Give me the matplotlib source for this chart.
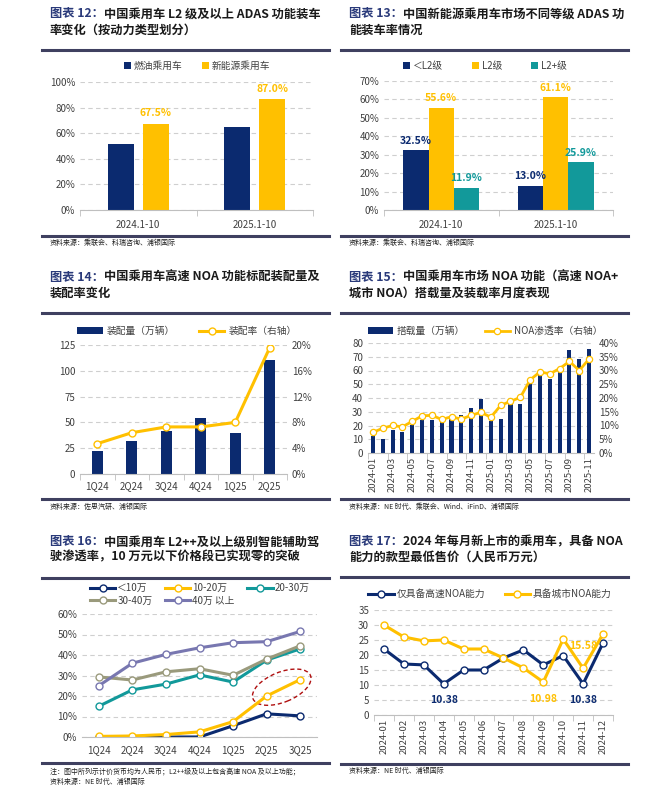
import matplotlib
matplotlib.use('Agg')
import matplotlib.pyplot as plt
import matplotlib.transforms as mtrans
from matplotlib.patches import Ellipse
from matplotlib.ticker import FuncFormatter
import numpy as np

plt.rcParams['font.family'] = ['Noto Sans CJK SC', 'DejaVu Sans']

W, H = 672, 791
NAVY = '#0b2a6f'
GOLD = '#ffc000'
TEAL = '#12999a'
OLIVE = '#9a9a7c'
PURPLE = '#7877b0'
RULE = '#3f4060'
GRID = '#cfcfcf'
TXT = '#404040'

# 图表12
p12_cats = ['2024.1-10', '2025.1-10']
p12_fuel = [51.5, 64.5]
p12_nev = [67.5, 87.0]

# 图表13
p13_cats = ['2024.1-10', '2025.1-10']
p13_below = [32.5, 13.0]
p13_l2 = [55.6, 61.1]
p13_l2plus = [11.9, 25.9]

# 图表14
p14_cats = ['1Q24', '2Q24', '3Q24', '4Q24', '1Q25', '2Q25']
p14_vol = [22, 31.5, 41.5, 54, 39.5, 110]
p14_rate = [4.7, 6.4, 7.3, 7.3, 8.0, 19.6]

# 图表15
p15_months = ['2024-01', '2024-02', '2024-03', '2024-04', '2024-05', '2024-06',
              '2024-07', '2024-08', '2024-09', '2024-10', '2024-11', '2024-12',
              '2025-01', '2025-02', '2025-03', '2025-04', '2025-05', '2025-06',
              '2025-07', '2025-08', '2025-09', '2025-10', '2025-11']
p15_vol = [12.5, 10, 17, 15, 20.5, 24, 24, 22.5, 24.5, 27.5, 33, 39,
           23.5, 24.5, 35.5, 36, 51, 57.5, 53.5, 59.5, 75, 68.5, 76]
p15_rate = [7.5, 9, 10, 9.5, 11.5, 13.5, 13.7, 12.2, 13.2, 12.3, 13.7, 14.8,
            13, 17.3, 18.8, 20.2, 26.6, 29.5, 28.8, 30.7, 33.3, 30, 34.2]

# 图表16
p16_cats = ['1Q24', '2Q24', '3Q24', '4Q24', '1Q25', '2Q25', '3Q25']
p16_lt10 = [0, 0, 0, 0, 5.5, 11.3, 10.3]
p16_10_20 = [0.3, 0.5, 1.2, 2.5, 7.5, 20, 28]
p16_20_30 = [15, 23, 25.8, 30.3, 26.8, 37.5, 43]
p16_30_40 = [29.3, 27.8, 31.8, 33.3, 30.1, 38, 44.5]
p16_40up = [25, 36, 40.3, 43.5, 46, 46.5, 51.5]

# 图表17
p17_months = ['2024-01', '2024-02', '2024-03', '2024-04', '2024-05', '2024-06',
              '2024-07', '2024-08', '2024-09', '2024-10', '2024-11', '2024-12']
p17_highway = [22, 17, 16.7, 10.38, 15, 15, 19, 21.7, 16.7, 19.8, 10.38, 24]
p17_city = [30, 26, 24.7, 25, 22, 22, 19, 15.7, 10.98, 25.3, 15.58, 27]

fig = plt.figure(figsize=(W / 100, H / 100), dpi=100)
fig.patch.set_facecolor('white')


def fx(x):
    return x / W


def fy(y):
    return 1 - y / H


def mk_ax(x0, y0, x1, y1):
    ax = fig.add_axes([fx(x0), fy(y1), fx(x1 - x0), (y1 - y0) / H])
    for s in ['top', 'right', 'left']:
        ax.spines[s].set_visible(False)
    ax.spines['bottom'].set_color('#bfbfbf')
    ax.tick_params(axis='y', length=0, labelsize=7, colors=TXT)
    ax.tick_params(axis='x', length=0, labelsize=7, colors=TXT)
    ax.grid(axis='y', color=GRID, linestyle=(0, (4, 3)), linewidth=0.8)
    ax.set_axisbelow(True)
    return ax


def rule(x0, x1, y):
    fig.add_artist(plt.Line2D([fx(x0), fx(x1)], [fy(y), fy(y)], color=RULE, lw=2.2))


def title(x, y1, y2, num, line1, line2):
    t = fig.text(fx(x), fy(y1), '图表 %s：' % num, fontsize=8.8, fontweight='bold',
                 color='#2a3a7a', va='center', ha='left')
    fig.canvas.draw()
    bb = t.get_window_extent()
    fig.text(bb.x1 / W, fy(y1), line1, fontsize=8.8, fontweight='bold',
             color='#1a1a1a', va='center', ha='left')
    fig.text(fx(x), fy(y2), line2, fontsize=8.8, fontweight='bold',
             color='#1a1a1a', va='center', ha='left')


def source(x, y, s):
    fig.text(fx(x), fy(y), s, fontsize=5, color='#202020', va='center', ha='left')


def pct(v, p):
    return '%d%%' % v


def color_texts(lg):
    for t in lg.get_texts():
        t.set_color(TXT)


# ---------- 图表12 ----------
title(50, 14, 30, '12', '中国乘用车 L2 级及以上 ADAS 功能装车', '率变化（按动力类型划分）')
rule(42, 329, 50)
ax = mk_ax(80, 82, 313, 210)
x = np.arange(len(p12_cats))
ax.bar(x - 0.15, p12_fuel, 0.22, color=NAVY, label='燃油乘用车')
ax.bar(x + 0.15, p12_nev, 0.22, color=GOLD, label='新能源乘用车')
for xi, v in zip(x, p12_nev):
    ax.text(xi + 0.15, v + 4, '%.1f%%' % v, color=GOLD, fontsize=7.5, fontweight='bold',
            ha='center', va='bottom')
ax.set_xlim(-0.5, 1.5)
ax.set_ylim(0, 100)
ax.set_yticks(np.arange(0, 101, 20))
ax.yaxis.set_major_formatter(FuncFormatter(pct))
ax.set_xticks(x)
ax.set_xticklabels(p12_cats)
ax.set_xticks([-0.5, 0.5, 1.5], minor=True)
ax.tick_params(axis='x', which='minor', length=4, color='#bfbfbf')
ax.tick_params(axis='x', pad=7)
lg = ax.legend(loc='center', bbox_to_anchor=(fx(197), fy(66)), bbox_transform=fig.transFigure,
               ncol=2, frameon=False, fontsize=7, handlelength=0.7, handleheight=0.7,
               handletextpad=0.3, columnspacing=2.0)
color_texts(lg)
rule(42, 329, 236)
source(50, 243, '资料来源：乘联会、科瑞咨询、浦银国际')

# ---------- 图表13 ----------
title(349, 14, 30, '13', '中国新能源乘用车市场不同等级 ADAS 功', '能装车率情况')
rule(341, 628, 50)
ax = mk_ax(384, 81, 613, 210)
x = np.arange(len(p13_cats))
series13 = [(p13_below, NAVY, '＜L2级', -0.22), (p13_l2, GOLD, 'L2级', 0),
            (p13_l2plus, TEAL, 'L2+级', 0.22)]
for vals, c, lab, off in series13:
    ax.bar(x + off, vals, 0.22, color=c, label=lab)
    for xi, v in zip(x, vals):
        ax.text(xi + off, v + 2.5, '%.1f%%' % v, color=c, fontsize=7.5, fontweight='bold',
                ha='center', va='bottom')
ax.set_xlim(-0.5, 1.5)
ax.set_ylim(0, 70)
ax.set_yticks(np.arange(0, 71, 10))
ax.yaxis.set_major_formatter(FuncFormatter(pct))
ax.set_xticks(x)
ax.set_xticklabels(p13_cats)
ax.set_xticks([-0.5, 0.5, 1.5], minor=True)
ax.tick_params(axis='x', which='minor', length=4, color='#bfbfbf')
ax.tick_params(axis='x', pad=7)
lg = ax.legend(loc='center', bbox_to_anchor=(fx(485), fy(66)), bbox_transform=fig.transFigure,
               ncol=3, frameon=False, fontsize=7, handlelength=0.7, handleheight=0.7,
               handletextpad=0.3, columnspacing=3.0)
color_texts(lg)
rule(341, 628, 236)
source(349, 243, '资料来源：乘联会、科瑞咨询、浦银国际')

# ---------- 图表14 ----------
title(50, 277, 293, '14', '中国乘用车高速 NOA 功能标配装配量及', '装配率变化')
rule(42, 329, 313)
ax = mk_ax(80, 345, 287, 474)
x = np.arange(len(p14_cats))
ax.bar(x, p14_vol, 0.33, color=NAVY, label='装配量（万辆）')
ax.set_xlim(-0.5, len(x) - 0.5)
ax.set_ylim(0, 125)
ax.set_yticks(np.arange(0, 126, 25))
ax.set_xticks(x)
ax.set_xticklabels(p14_cats)
ax.set_xticks(np.arange(-0.5, len(x), 1), minor=True)
ax.tick_params(axis='x', which='minor', length=4, color='#bfbfbf')
ax.tick_params(axis='x', pad=5)
ax2 = ax.twinx()
for s in ax2.spines.values():
    s.set_visible(False)
ax2.plot(x, p14_rate, color=GOLD, lw=2.2, marker='o', ms=5, mfc='white', mec=GOLD,
         mew=1.0, label='装配率（右轴）')
ax2.set_ylim(0, 20)
ax2.set_yticks(np.arange(0, 21, 4))
ax2.yaxis.set_major_formatter(FuncFormatter(pct))
ax2.tick_params(axis='y', length=0, labelsize=7, colors=TXT)
h1, l1 = ax.get_legend_handles_labels()
h2, l2 = ax2.get_legend_handles_labels()
lg = ax2.legend(h1 + h2, l1 + l2, loc='center', bbox_to_anchor=(fx(187), fy(331)),
                bbox_transform=fig.transFigure, ncol=2, frameon=False, fontsize=7,
                handlelength=2.6, handletextpad=0.4, columnspacing=2.5)
color_texts(lg)
rule(42, 329, 499)
source(50, 507, '资料来源：佐思汽研、浦银国际')

# ---------- 图表15 ----------
title(349, 277, 293, '15', '中国乘用车市场 NOA 功能（高速 NOA+', '城市 NOA）搭载量及装载率月度表现')
rule(341, 628, 313)
ax = mk_ax(368, 343, 594, 453)
x = np.arange(len(p15_months))
ax.bar(x, p15_vol, 0.42, color=NAVY, label='搭载量（万辆）')
ax.set_xlim(-0.5, len(x) - 0.5)
ax.set_ylim(0, 80)
ax.set_yticks(np.arange(0, 81, 10))
ax.set_xticks(x[::2])
ax.set_xticklabels(p15_months[::2], rotation=90)
ax.set_xticks(np.arange(-0.5, len(x), 2), minor=True)
ax.tick_params(axis='x', which='minor', length=4, color='#bfbfbf')
ax.tick_params(axis='x', pad=3, labelsize=6.8)
ax2 = ax.twinx()
for s in ax2.spines.values():
    s.set_visible(False)
ax2.plot(x, p15_rate, color=GOLD, lw=2.0, marker='o', ms=4.5, mfc='white', mec=GOLD,
         mew=0.9, label='NOA渗透率（右轴）')
ax2.set_ylim(0, 40)
ax2.set_yticks(np.arange(0, 41, 5))
ax2.yaxis.set_major_formatter(FuncFormatter(pct))
ax2.tick_params(axis='y', length=0, labelsize=7, colors=TXT)
h1, l1 = ax.get_legend_handles_labels()
h2, l2 = ax2.get_legend_handles_labels()
lg = ax2.legend(h1 + h2, l1 + l2, loc='center', bbox_to_anchor=(fx(485), fy(331)),
                bbox_transform=fig.transFigure, ncol=2, frameon=False, fontsize=7,
                handlelength=2.6, handletextpad=0.4, columnspacing=2.0)
color_texts(lg)
rule(341, 628, 499)
source(349, 507, '资料来源：NE 时代、乘联会、Wind、iFinD、浦银国际')

# ---------- 图表16 ----------
title(50, 542, 557, '16', '中国乘用车 L2++及以上级别智能辅助驾', '驶渗透率，10 万元以下价格段已实现零的突破')
rule(42, 329, 578)
ax = mk_ax(82, 614, 317, 737)
x = np.arange(len(p16_cats))
series16 = [(p16_lt10, NAVY, '＜10万'), (p16_10_20, GOLD, '10-20万'),
            (p16_20_30, TEAL, '20-30万'), (p16_30_40, OLIVE, '30-40万'),
            (p16_40up, PURPLE, '40万 以上')]
for vals, c, lab in series16:
    ax.plot(x, vals, color=c, lw=2.2, marker='o', ms=5, mfc='white', mec=c, mew=1.0, label=lab)
ax.set_xlim(-0.5, len(x) - 0.5)
ax.set_ylim(0, 60)
ax.set_yticks(np.arange(0, 61, 10))
ax.yaxis.set_major_formatter(FuncFormatter(pct))
ax.set_xticks(x)
ax.set_xticklabels(p16_cats)
ax.tick_params(axis='x', pad=6)
ell_pos = mtrans.ScaledTranslation(5.45, 24.3, ax.transData)
ax.add_patch(Ellipse((0, 0), 0.62, 0.30, angle=22, fill=False, edgecolor='#b01010',
                     linestyle=(0, (3, 2)), lw=1.0, transform=fig.dpi_scale_trans + ell_pos,
                     clip_on=False))
h, l = ax.get_legend_handles_labels()
order = [0, 3, 1, 4, 2]
lg = ax.legend([h[i] for i in order], [l[i] for i in order], loc='upper left',
               bbox_to_anchor=(fx(90), fy(583)), bbox_transform=fig.transFigure,
               ncol=3, frameon=False, fontsize=7, handlelength=2.6, handletextpad=0.2,
               columnspacing=1.3, labelspacing=0.25, borderaxespad=0, borderpad=0)
color_texts(lg)
rule(42, 329, 763)
source(50, 771, '注：图中所列示计价货币均为人民币；L2++级及以上包含高速 NOA 及以上功能；')
source(50, 782, '资料来源：NE 时代、浦银国际')

# ---------- 图表17 ----------
title(349, 542, 557, '17', '2024 年每月新上市的乘用车，具备 NOA', '能力的款型最低售价（人民币万元）')
rule(341, 628, 577)
ax = mk_ax(374, 610, 613, 715)
x = np.arange(len(p17_months))
ax.plot(x, p17_highway, color=NAVY, lw=2.2, marker='o', ms=5, mfc='white', mec=NAVY,
        mew=1.0, label='仅具备高速NOA能力')
ax.plot(x, p17_city, color=GOLD, lw=2.2, marker='o', ms=5, mfc='white', mec=GOLD,
        mew=1.0, label='具备城市NOA能力')
ax.set_xlim(-0.5, len(x) - 0.5)
ax.set_ylim(0, 35)
ax.set_yticks(np.arange(0, 36, 5))
ax.set_xticks(x)
ax.set_xticklabels(p17_months, rotation=90)
ax.set_xticks(np.arange(-0.5, len(x), 1), minor=True)
ax.tick_params(axis='x', which='minor', length=4, color='#bfbfbf')
ax.tick_params(axis='x', pad=3, labelsize=6.8)
ax.text(3, 5, '%.2f' % p17_highway[3], color=NAVY, fontsize=7.5, fontweight='bold',
        ha='center', va='center')
ax.text(10, 5, '%.2f' % p17_highway[10], color=NAVY, fontsize=7.5, fontweight='bold',
        ha='center', va='center')
ax.text(8, 5.5, '%.2f' % p17_city[8], color=GOLD, fontsize=7.5, fontweight='bold',
        ha='center', va='center')
ax.text(10, 23, '%.2f' % p17_city[10], color=GOLD, fontsize=7.5, fontweight='bold',
        ha='center', va='center')
lg = ax.legend(loc='center', bbox_to_anchor=(fx(490), fy(594)), bbox_transform=fig.transFigure,
               ncol=2, frameon=False, fontsize=7, handlelength=2.6, handletextpad=0.3,
               columnspacing=2.0)
color_texts(lg)
rule(341, 628, 764)
source(349, 771, '资料来源：NE 时代、浦银国际')

fig.savefig('out.png', dpi=100, facecolor='white')
